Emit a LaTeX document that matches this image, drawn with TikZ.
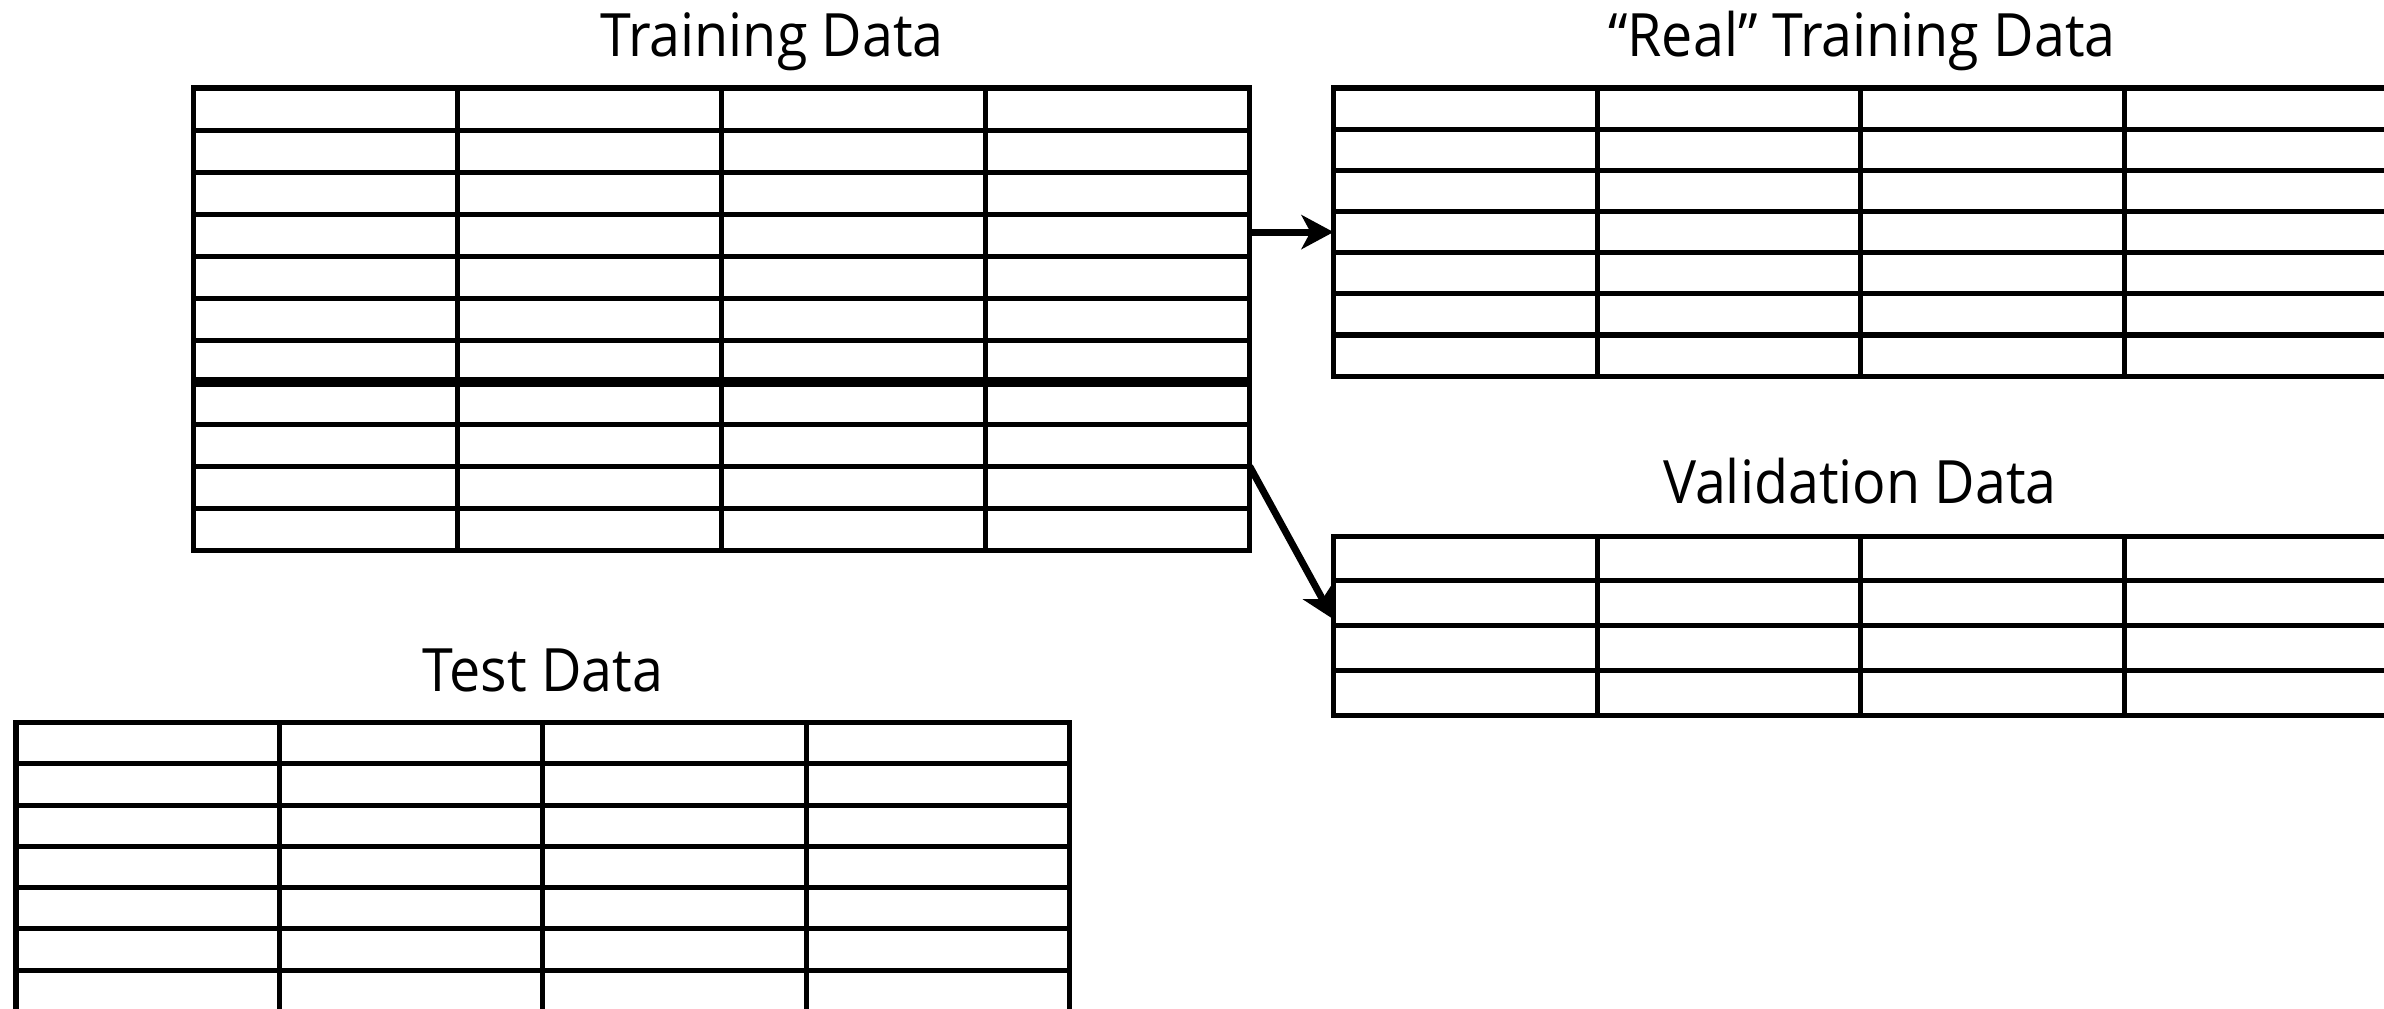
\documentclass[tikz,border=0pt]{standalone}
\usepackage{fontspec}
\usepackage{graphicx}
\setmainfont{Open Sans}
\usetikzlibrary{arrows.meta,calc}

% slightly condensed title lettering
\newcommand\narrowtext[1]{\scalebox{0.93}[1]{#1}}

\tikzset{
  tablebox/.style={draw, rectangle, line width=0.05cm, inner sep=0pt, outer sep=0pt, anchor=north west},
  gridline/.style={line width=0.05cm},
  splitline/.style={line width=0.105cm},
  title/.style={anchor=base, inner sep=0pt, font=\fontsize{17pt}{20pt}\selectfont},
  flow/.style={line width=0.07cm, -{Stealth[length=0.32cm,width=0.34cm,inset=0.09cm]}},
}

% inner rules of a table node: #1 node name, #2 number of rows, #3 number of columns
\newcommand\gridlines[3]{%
  \pgfmathtruncatemacro\lastrow{#2-1}%
  \pgfmathtruncatemacro\lastcol{#3-1}%
  \foreach \r in {1,...,\lastrow}{%
    \draw[gridline] ($(#1.north west)!\r/#2!(#1.south west)$) -- ($(#1.north east)!\r/#2!(#1.south east)$);
  }
  \foreach \c in {1,...,\lastcol}{%
    \draw[gridline] ($(#1.north west)!\c/#3!(#1.north east)$) -- ($(#1.south west)!\c/#3!(#1.south east)$);
  }
}

\begin{document}
\begin{tikzpicture}[x=0.01cm,y=-0.01cm]
  \clip (0,0) rectangle (2384,1009);
  \fill[white] (0,0) rectangle (2384,1009);

  % tables
  \node[tablebox, minimum width=10.56cm, minimum height=4.62cm] (tr) at (193,88) {};
  \node[tablebox, minimum width=10.54cm, minimum height=2.88cm] (rt) at (1333.5,88) {};
  \node[tablebox, minimum width=10.54cm, minimum height=1.79cm] (vd) at (1333.5,536) {};
  \node[tablebox, minimum width=10.53cm, minimum height=2.884cm] (ts) at (16,722.7) {};

  \gridlines{tr}{11}{4}
  \gridlines{rt}{7}{4}
  \gridlines{vd}{4}{4}
  \gridlines{ts}{7}{4}

  % split between real training rows and validation rows
  \draw[splitline] ($(tr.north west)!7/11!(tr.south west)$) -- ($(tr.north east)!7/11!(tr.south east)$);

  % titles
  \node[title] (ttr) at (772,56.7) {\narrowtext{Training Data}};
  \node[title] (trt) at (1862,56.7) {\narrowtext{“Real” Training Data}};
  \node[title] (tvd) at (1860,503.3) {\narrowtext{Validation Data}};
  \node[title] (tts) at (543,691.7) {\narrowtext{Test Data}};

  % arrows
  \draw[flow] (tr.east |- rt.west) -- (rt.west);
  \draw[flow] ($(tr.north east)!9/11!(tr.south east)$) -- ($(vd.north west)!0.465!(vd.south west)$);
\end{tikzpicture}
\end{document}
